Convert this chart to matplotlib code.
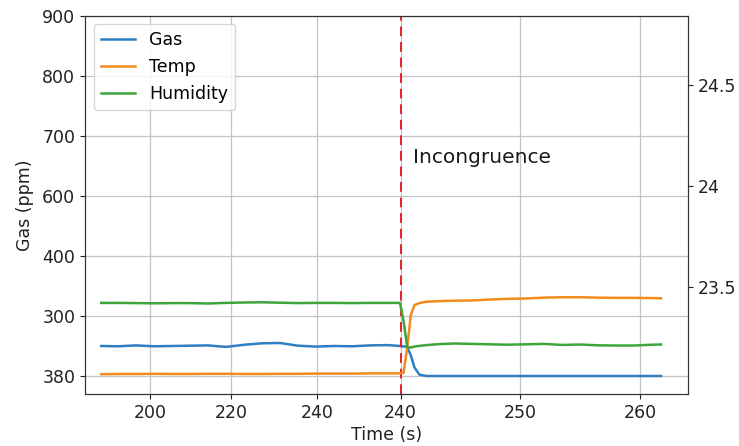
import matplotlib
matplotlib.use("Agg")
import matplotlib.pyplot as plt

# time axis (s)
time = [215.1, 216.5, 218, 219.5, 221, 222.5, 224, 225.5, 227, 228.5,
        230, 231.5, 233, 234.5, 236, 237.5, 239, 240.0, 240.3, 240.6,
        240.9, 241.2, 241.6, 242.2, 243, 244.5, 246, 247.5, 249, 250.5,
        252, 253.5, 255, 256.5, 258, 259.5, 261, 261.75]

gas = [349.5, 349, 350.5, 349, 349.5, 350, 350.5, 348, 351.5, 354,
       354.5, 350, 348.5, 349.5, 349, 350.5, 351, 349.5, 349, 348,
       334, 314, 302, 299.5, 299.5, 299.5, 299.5, 299.5, 299.5, 299.5,
       299.5, 299.5, 299.5, 299.5, 299.5, 299.5, 299.5, 299.5]

temp = [23.068, 23.069, 23.069, 23.070, 23.069, 23.069, 23.070, 23.070, 23.069, 23.069,
        23.070, 23.070, 23.071, 23.071, 23.071, 23.072, 23.072, 23.072, 23.075, 23.20,
        23.36, 23.41, 23.42, 23.427, 23.429, 23.432, 23.433, 23.438, 23.441, 23.443,
        23.447, 23.449, 23.449, 23.447, 23.446, 23.446, 23.445, 23.444]

humidity = [23.421, 23.421, 23.420, 23.419, 23.420, 23.420, 23.418, 23.421, 23.423, 23.424,
            23.422, 23.420, 23.421, 23.421, 23.420, 23.421, 23.421, 23.421, 23.33, 23.203,
            23.200, 23.205, 23.208, 23.212, 23.216, 23.220, 23.218, 23.216, 23.214, 23.216,
            23.218, 23.213, 23.215, 23.211, 23.210, 23.210, 23.214, 23.215]

event_time = 240.05

xtick_pos = [219.2, 225.9, 233.1, 240.05, 250, 260]
xtick_labels = ["200", "220", "240", "240", "250", "260"]
ytick_pos = [300, 400, 500, 600, 700, 800, 900]
ytick_labels = ["380", "300", "400", "600", "700", "800", "900"]
y2tick_pos = [23.5, 24.0, 24.5]
y2tick_labels = ["23.5", "24", "24.5"]

fig = plt.figure(figsize=(7.39, 4.46), dpi=100)
ax = fig.add_axes([0.115, 0.1166, 0.816, 0.8482])
ax2 = ax.twinx()

l1, = ax.plot(time, gas, color="#2f7fc1", lw=1.8, label="Gas")
l2, = ax2.plot(time, temp, color="#f28a1e", lw=1.8, label="Temp")
l3, = ax2.plot(time, humidity, color="#3da53a", lw=1.8, label="Humidity")
ax.axvline(event_time, color="#e8202a", ls="--", lw=1.4, dashes=(5, 3))

ax.set_xlim(213.75, 264)
ax.set_ylim(269.5, 900)
ax2.set_ylim(22.97, 24.843)

ax.set_xticks(xtick_pos)
ax.set_xticklabels(xtick_labels)
ax.set_yticks(ytick_pos)
ax.set_yticklabels(ytick_labels)
ax2.set_yticks(y2tick_pos)
ax2.set_yticklabels(y2tick_labels)

ax.tick_params(labelsize=12.5, colors="#222222")
ax2.tick_params(labelsize=12.5, colors="#222222")
for s in list(ax.spines.values()) + list(ax2.spines.values()):
    s.set_color("#333333")
ax.grid(True, color="#c4c4c4", lw=0.9)

ax.set_xlabel("Time (s)", fontsize=12.5, labelpad=3, color="#222222")
ax.set_ylabel("Gas (ppm)", fontsize=12.5, labelpad=6, color="#222222")

ax.text(241.1, 663, "Incongruence", fontsize=14.5, va="center", ha="left", color="#1a1a1a")

ax.legend(handles=[l1, l2, l3], loc="upper left", fontsize=12.5)

fig.savefig("out.png", dpi=100)
